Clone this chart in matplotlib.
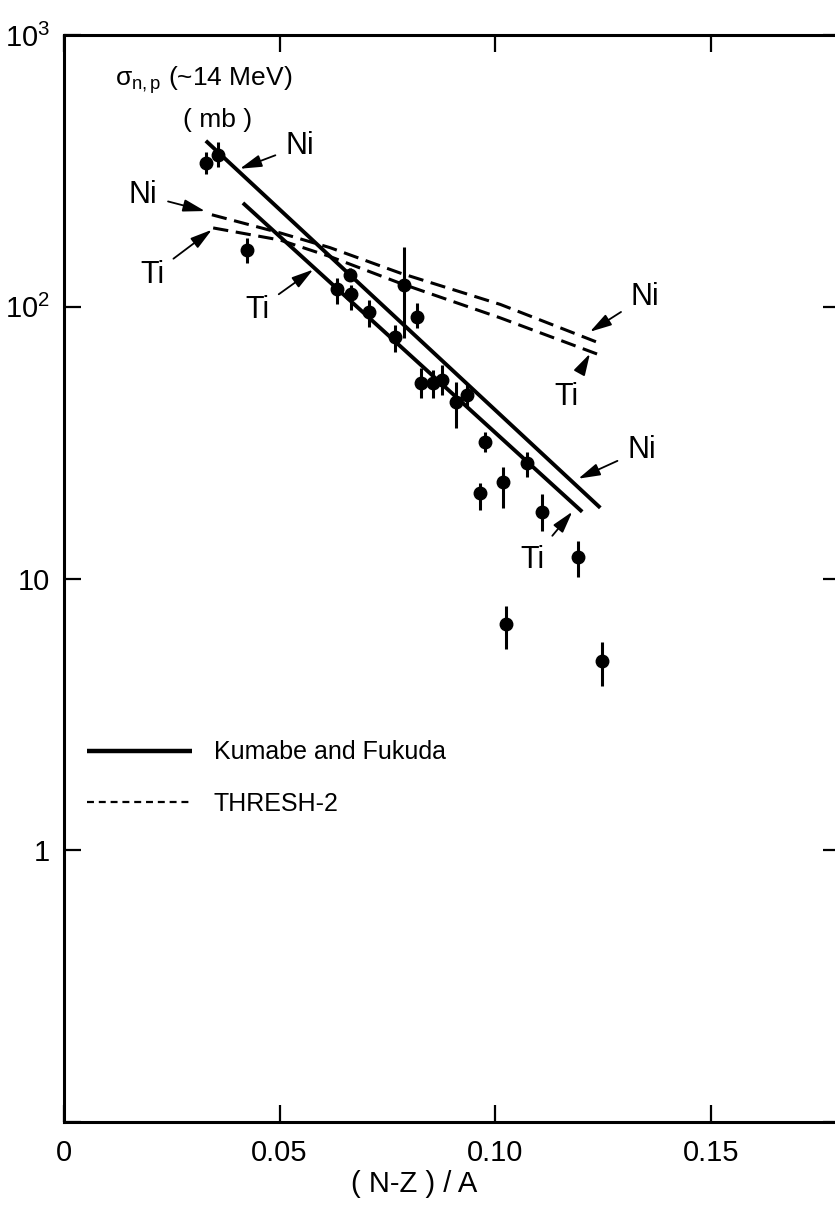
import numpy as np
import matplotlib
matplotlib.use("Agg")
import matplotlib.pyplot as plt
from matplotlib.lines import Line2D

plt.rcParams["font.family"] = ["Liberation Sans", "DejaVu Sans"]
plt.rcParams["mathtext.fontset"] = "custom"
plt.rcParams["mathtext.rm"] = "Liberation Sans"
plt.rcParams["mathtext.it"] = "Liberation Sans"
plt.rcParams["lines.scale_dashes"] = False

# measured (n,p) cross sections at ~14 MeV
asym = [0.0329, 0.0357, 0.0425, 0.0633, 0.0664, 0.0666, 0.0708, 0.0768,
        0.0789, 0.0819, 0.0828, 0.0856, 0.0877, 0.0910, 0.0935, 0.0977,
        0.0965, 0.1019, 0.1074, 0.1109, 0.1193, 0.1026, 0.1248]
sigma = [338, 362, 162, 116, 131, 111, 95.9, 77.6,
         120, 91.9, 52.6, 52.6, 53.9, 44.8, 47.5, 31.9,
         20.7, 22.7, 26.7, 17.5, 12.0, 6.78, 4.95]
sigma_lo = [308, 327, 145, 102, 124, 97.5, 84.4, 68.4,
            76.9, 83.8, 46.3, 46.3, 47.5, 35.9, 42.9, 29.1,
            17.9, 18.2, 23.7, 14.9, 10.1, 5.48, 4.01]
sigma_hi = [371, 404, 179, 128, 139, 120.5, 106, 85.9,
            166, 103.5, 59.7, 58.6, 61.2, 53.0, 52.6, 34.7,
            22.5, 25.8, 29.1, 20.4, 13.7, 7.89, 5.86]

# Kumabe and Fukuda systematics (straight lines on log scale)
kf_ni_x = [0.0329, 0.1244]
kf_ni_y = [408, 18.2]
kf_ti_x = [0.0415, 0.1202]
kf_ti_y = [241, 17.6]

# THRESH-2 curves
th_ni_x = [0.0343, 0.0501, 0.0617, 0.0780, 0.1012, 0.1239]
th_ni_y = [218, 187, 165, 133, 102, 73.8]
th_ti_x = [0.0346, 0.0501, 0.0617, 0.0780, 0.1012, 0.1241]
th_ti_y = [195, 176, 153, 122, 91, 66.6]

xticks = [0, 0.05, 0.10, 0.15]
xticklabels = ["0", "0.05", "0.10", "0.15"]
yticks = [0.1, 1, 10, 100, 1000]
yticklabels = ["", "1", "10", r"$\mathregular{10^2}$", r"$\mathregular{10^3}$"]

# (label, text position, arrow target)
callouts = [
    ("Ni", (0.0548, 391), (0.0408, 322)),
    ("Ni", (0.0183, 258), (0.0327, 225)),
    ("Ti", (0.0204, 131), (0.0343, 192)),
    ("Ti", (0.0448, 97.5), (0.0578, 137)),
    ("Ni", (0.1348, 109), (0.1220, 80.9)),
    ("Ti", (0.1165, 46.7), (0.1220, 67.2)),
    ("Ni", (0.1341, 29.8), (0.1193, 23.3)),
    ("Ti", (0.1086, 11.7), (0.1179, 17.6)),
]

fig = plt.figure(figsize=(8.35, 12.05), dpi=100)
ax = fig.add_axes([64 / 835, 83 / 1205, 776 / 835, 1087 / 1205])
ax.set_yscale("log")
ax.set_xlim(0, 0.18)
ax.set_ylim(0.1, 1000)

s = np.array(sigma)
yerr = [s - np.array(sigma_lo), np.array(sigma_hi) - s]
ax.errorbar(asym, sigma, yerr=yerr, fmt="o", color="black", ms=9,
            elinewidth=2.2, capsize=0, zorder=5)

ax.plot(kf_ni_x, kf_ni_y, color="black", lw=2.8, solid_capstyle="butt")
ax.plot(kf_ti_x, kf_ti_y, color="black", lw=2.8, solid_capstyle="butt")
ax.plot(th_ni_x, th_ni_y, color="black", lw=2.2, dashes=(11, 5.5))
ax.plot(th_ti_x, th_ti_y, color="black", lw=2.2, dashes=(11, 5.5))

for label, txt, tgt in callouts:
    ax.annotate(label, xy=tgt, xytext=txt, fontsize=22, ha="center",
                va="center",
                arrowprops=dict(arrowstyle="-|>,head_length=0.6,head_width=0.17",
                                color="black", lw=1.3, shrinkA=6, shrinkB=0))

ax.text(0.0118, 684, r"$\sigma_{n,p}$ (~14 MeV)", fontsize=19,
        ha="left", va="center")
ax.text(0.0276, 487, "( mb )", fontsize=19, ha="left", va="center")

handles = [
    Line2D([], [], color="black", lw=3.2, solid_capstyle="butt"),
    Line2D([], [], color="black", lw=1.6, dashes=(5, 3.5)),
]
ax.legend(handles, ["Kumabe and Fukuda", "THRESH-2"], loc="upper left",
          bbox_to_anchor=(0.030, 0.351), frameon=False, fontsize=18,
          handlelength=4.2, handletextpad=0.85, labelspacing=1.1,
          borderpad=0, borderaxespad=0)

ax.set_xticks(xticks)
ax.set_xticklabels(xticklabels)
ax.set_yticks(yticks)
ax.set_yticklabels(yticklabels)
ax.minorticks_off()
ax.tick_params(which="both", direction="in", length=12, width=1.6,
               top=True, right=True, labelsize=21)
ax.tick_params(axis="x", pad=12)
ax.tick_params(axis="y", pad=10)
for sp in ax.spines.values():
    sp.set_linewidth(2.2)

ax.set_xlabel("( N-Z ) / A", fontsize=21)
ax.xaxis.set_label_coords(0.451, -0.044)

fig.savefig("out.png", dpi=100)
